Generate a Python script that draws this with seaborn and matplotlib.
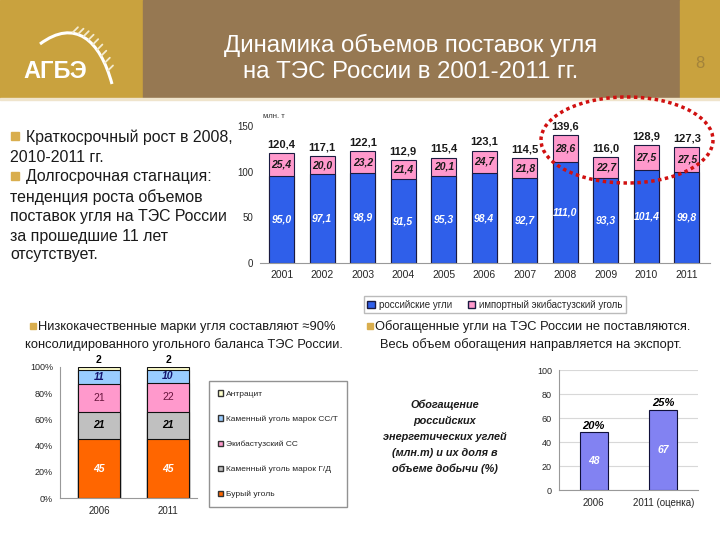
import matplotlib
matplotlib.use("Agg")
import matplotlib.pyplot as plt
from matplotlib.patches import Rectangle, Ellipse, Patch, PathPatch
from matplotlib.path import Path
import numpy as np
import seaborn as sns

# ---- data ----
YEARS = ["2001", "2002", "2003", "2004", "2005", "2006",
         "2007", "2008", "2009", "2010", "2011"]
RUS = [95.0, 97.1, 98.9, 91.5, 95.3, 98.4, 92.7, 111.0, 93.3, 101.4, 99.8]
IMP = [25.4, 20.0, 23.2, 21.4, 20.1, 24.7, 21.8, 28.6, 22.7, 27.5, 27.5]
TOTAL = [120.4, 117.1, 122.1, 112.9, 115.4, 123.1, 114.5, 139.6, 116.0, 128.9, 127.3]

MIX_YEARS = ["2006", "2011"]
MIX_NAMES = ["Бурый уголь", "Каменный уголь марок Г/Д", "Экибастузский СС",
             "Каменный уголь марок СС/Т", "Антрацит"]
BROWN = [45, 45]
GD = [21, 21]
EKIB = [21, 22]
SST = [11, 10]
ANTH = [2, 2]

ENR_YEARS = ["2006", "2011 (оценка)"]
ENR_VOL = [48, 67]
ENR_SHARE = ["20%", "25%"]

BLUE = "#2F5FEA"
PINK = "#FF99CC"
EDGE = "#1A1A40"
MIX_COLORS = ["#FF6600", "#C0C0C0", "#FF99CC", "#99CCFF", "#FFFFCC"]
GOLD = "#C9A23E"
BROWNBG = "#967852"
TXT = "#1A1A1A"


def fmt(v):
    return f"{v:.1f}".replace(".", ",")


sns.set_style("white")
plt.rcParams["font.family"] = ["Liberation Sans", "DejaVu Sans"]

fig = plt.figure(figsize=(7.2, 5.4), dpi=100)

# ---- main chart: coal supplies ----
ax = fig.add_axes([260 / 720, 1 - 263 / 540, 450 / 720, 137 / 540])
sns.barplot(x=YEARS, y=TOTAL, color=PINK, saturation=1, width=0.62,
            edgecolor=EDGE, linewidth=0.8, ax=ax)
sns.barplot(x=YEARS, y=RUS, color=BLUE, saturation=1, width=0.62,
            edgecolor=EDGE, linewidth=0.8, ax=ax)
ax.set_xlim(-0.535, 10.57)
ax.set_ylim(0, 150)
ax.set_yticks([0, 50, 100, 150])
ax.tick_params(axis="y", labelsize=7, length=3, color="#888888", pad=2)
ax.tick_params(axis="x", labelsize=7.5, length=0, pad=5)
ax.set_xlabel("")
ax.set_ylabel("")
for s in ["top", "right", "left"]:
    ax.spines[s].set_visible(False)
ax.spines["bottom"].set_color("#999999")
for i, (r, m, t) in enumerate(zip(RUS, IMP, TOTAL)):
    ax.text(i, t + 4, fmt(t), ha="center", va="bottom", fontsize=8,
            fontweight="bold", color=TXT, clip_on=False)
    ax.text(i, r + m / 2, fmt(m), ha="center", va="center", fontsize=7.5,
            fontweight="bold", fontstyle="italic", color=TXT)
    ax.text(i, r / 2, fmt(r), ha="center", va="center", fontsize=7.5,
            fontweight="bold", fontstyle="italic", color="white")
fig.legend(handles=[Patch(facecolor=BLUE, edgecolor=EDGE, label="российские угли"),
                    Patch(facecolor=PINK, edgecolor=EDGE, label="импортный экибастузский уголь")],
           loc="upper left", bbox_to_anchor=(359 / 720, 1 - 291 / 540), ncol=2,
           fontsize=7, frameon=True, fancybox=False, edgecolor="#AAAAAA",
           handlelength=0.8, handleheight=0.8, handletextpad=0.4,
           columnspacing=1.6, borderpad=0.35)

# ---- bottom left: coal mix (100% stacked) ----
ax2 = fig.add_axes([60 / 720, 1 - 498 / 540, 137 / 720, 131 / 540])
layers = [BROWN, GD, EKIB, SST, ANTH]
cum = np.cumsum(np.array(layers), axis=0)
for k in range(len(layers) - 1, -1, -1):
    sns.barplot(x=MIX_YEARS, y=cum[k], color=MIX_COLORS[k], saturation=1,
                width=0.61, edgecolor="#111111", linewidth=0.8, ax=ax2)
ax2.set_xlim(-0.565, 1.42)
ax2.set_ylim(0, 100)
ax2.set_yticks(range(0, 101, 20))
ax2.set_yticklabels([f"{v}%" for v in range(0, 101, 20)])
ax2.tick_params(axis="y", labelsize=6.5, length=3, color="#888888", pad=2)
ax2.tick_params(axis="x", labelsize=7, length=0, pad=6)
ax2.set_xlabel("")
ax2.set_ylabel("")
for s in ["top", "right"]:
    ax2.spines[s].set_visible(False)
for s in ["left", "bottom"]:
    ax2.spines[s].set_color("#999999")
label_style = [
    dict(color="white", fontweight="bold", fontstyle="italic"),
    dict(color="black", fontweight="bold", fontstyle="italic"),
    dict(color="#66143C", fontweight="normal", fontstyle="normal"),
    dict(color="#14146E", fontweight="bold", fontstyle="italic"),
]
for j in range(len(MIX_YEARS)):
    for k in range(4):
        mid = cum[k][j] - layers[k][j] / 2
        ax2.text(j, mid, str(layers[k][j]), ha="center", va="center",
                 fontsize=7.5, **label_style[k])
    ax2.text(j, cum[4][j] + 1.5, str(ANTH[j]), ha="center", va="bottom",
             fontsize=7.5, fontweight="bold", color="black", clip_on=False)
order = [4, 3, 2, 1, 0]
fig.legend(handles=[Patch(facecolor=MIX_COLORS[k], edgecolor="#333333",
                          label=MIX_NAMES[k]) for k in order],
           loc="upper left", bbox_to_anchor=(205 / 720, 1 - 377 / 540),
           fontsize=6.0, frameon=True, fancybox=False, edgecolor="#777777",
           handlelength=0.6, handleheight=0.6, handletextpad=0.3,
           labelspacing=2.1, borderpad=1.1)

# ---- bottom right: beneficiation ----
ax3 = fig.add_axes([559 / 720, 1 - 490 / 540, 139 / 720, 120 / 540])
sns.barplot(x=ENR_YEARS, y=ENR_VOL, color="#8282F2", saturation=1, width=0.4,
            edgecolor="#10103A", linewidth=0.8, ax=ax3, zorder=3)
ax3.set_ylim(0, 100)
ax3.set_yticks(range(0, 101, 20))
ax3.grid(axis="y", color="#D8D8D8", linewidth=0.8)
ax3.tick_params(axis="y", labelsize=6.5, length=3, color="#888888", pad=2)
ax3.tick_params(axis="x", labelsize=7, length=0, pad=6)
ax3.set_xlabel("")
ax3.set_ylabel("")
for s in ["top", "right"]:
    ax3.spines[s].set_visible(False)
for s in ["left", "bottom"]:
    ax3.spines[s].set_color("#999999")
for j, (v, sh) in enumerate(zip(ENR_VOL, ENR_SHARE)):
    ax3.text(j, v / 2, str(v), ha="center", va="center", fontsize=7.5,
             fontweight="bold", fontstyle="italic", color="white", zorder=4)
    ax3.text(j, v + 1.5, sh, ha="center", va="bottom", fontsize=8,
             fontweight="bold", fontstyle="italic", color="black", zorder=4)

# ---- overlay: header, texts, highlight ----
ov = fig.add_axes([0, 0, 1, 1])
ov.set_xlim(0, 720)
ov.set_ylim(540, 0)
ov.axis("off")

ov.add_patch(Rectangle((0, 0), 143, 98, color=GOLD))
ov.add_patch(Rectangle((143, 0), 537, 98, color=BROWNBG))
ov.add_patch(Rectangle((680, 0), 40, 98, color=GOLD))
ov.add_patch(Rectangle((0, 98), 720, 2, color="#EFE4CC"))
ov.text(411, 45, "Динамика объемов поставок угля", ha="center", va="center",
        fontsize=17.3, color="white")
ov.text(411, 72, "на ТЭС России в 2001-2011 гг.", ha="center", va="center",
        fontsize=17.3, color="white")
ov.text(700, 64, "8", ha="center", va="center", fontsize=12, color="#A3833A")

# logo
wheat = Path([(40, 44), (75, 18), (100, 40), (112, 84)],
             [Path.MOVETO, Path.CURVE4, Path.CURVE4, Path.CURVE4])
ov.add_patch(PathPatch(wheat, facecolor="none", edgecolor="white", lw=2.2))
for t in np.linspace(0.35, 0.9, 9):
    px = (1 - t) ** 3 * 40 + 3 * (1 - t) ** 2 * t * 75 + 3 * (1 - t) * t ** 2 * 100 + t ** 3 * 112
    py = (1 - t) ** 3 * 44 + 3 * (1 - t) ** 2 * t * 18 + 3 * (1 - t) * t ** 2 * 40 + t ** 3 * 84
    ov.plot([px, px + 5], [py - 1, py - 6], color="#F4EBD0", lw=1.3)
ov.text(55, 72, "АГБЭ", ha="center", va="center", fontsize=17,
        fontweight="bold", color="white")

# left bullet text
bullet = "#D9AE4E"
ov.add_patch(Rectangle((11, 132), 8, 8, color=bullet))
ov.add_patch(Rectangle((11, 172), 8, 8, color=bullet))
left_lines = [(26, 137, "Краткосрочный рост в 2008,"),
              (10, 158, "2010-2011 гг."),
              (26, 177, "Долгосрочная стагнация:"),
              (10, 197, "тенденция роста объемов"),
              (10, 217, "поставок угля на ТЭС России"),
              (10, 236, "за прошедшие 11 лет"),
              (10, 255, "отсутствует.")]
for x, y, s in left_lines:
    ov.text(x, y, s, ha="left", va="center", fontsize=11.4, color=TXT)

ov.add_patch(Rectangle((30, 323), 6, 6, color=bullet))
ov.text(38, 327, "Низкокачественные марки угля составляют ≈90%",
        ha="left", va="center", fontsize=9.3, color=TXT)
ov.text(184, 345, "консолидированного угольного баланса ТЭС России.",
        ha="center", va="center", fontsize=9.3, color=TXT)
ov.add_patch(Rectangle((367, 323), 6, 6, color=bullet))
ov.text(375, 327, "Обогащенные угли на ТЭС России не поставляются.",
        ha="left", va="center", fontsize=9.3, color=TXT)
ov.text(380, 345, "Весь объем обогащения направляется на экспорт.",
        ha="left", va="center", fontsize=9.3, color=TXT)

enr_lines = ["Обогащение", "российских", "энергетических углей",
             "(млн.т) и их доля в", "объеме добычи (%)"]
for i, s in enumerate(enr_lines):
    ov.text(445, 405 + 16 * i, s, ha="center", va="center", fontsize=7.8,
            fontweight="bold", fontstyle="italic", color=TXT)

ov.text(263, 116, "млн. т", ha="left", va="center", fontsize=5.5, color="#333333")
ov.add_patch(Ellipse((627, 140), 172, 86, facecolor="none", edgecolor="#D01010",
                     lw=2.5, linestyle=(0, (1, 1))))

fig.savefig("out.png", dpi=100)
